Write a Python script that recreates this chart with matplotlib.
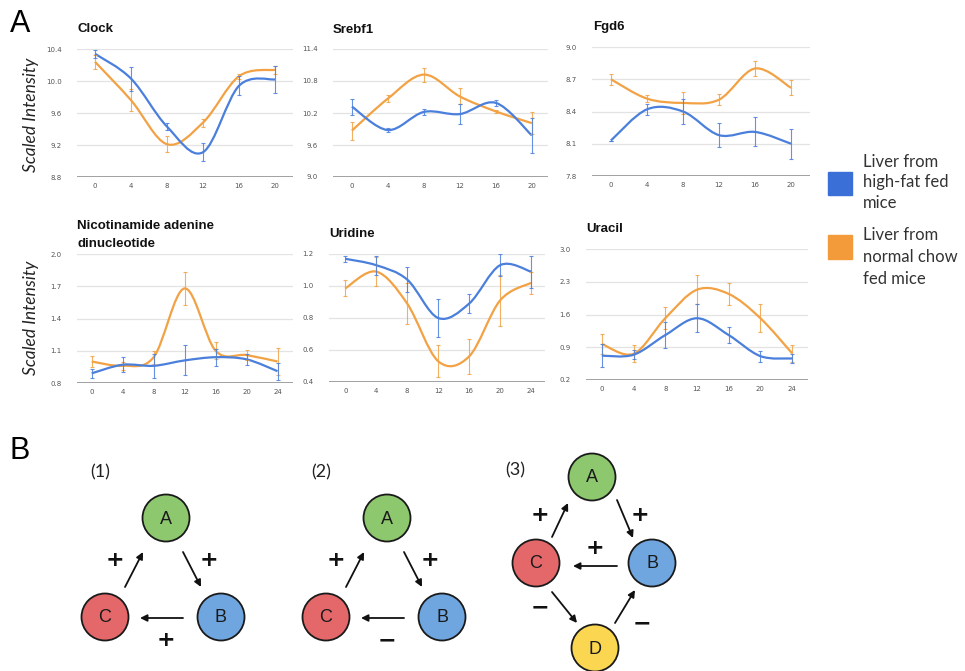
import numpy as np
import matplotlib
matplotlib.use("Agg")
import matplotlib.pyplot as plt
from matplotlib.path import Path
from matplotlib.patches import PathPatch, Circle, Rectangle

# ---- data ----
hours_a = [0, 4, 8, 12, 16, 20]
hours_b = [0, 4, 8, 12, 16, 20, 24]

clock_hf = [10.34, 10.03, 9.43, 9.11, 9.94, 10.02]
clock_hf_err = [0.05, 0.15, 0.04, 0.11, 0.12, 0.17]
clock_nc = [10.24, 9.76, 9.21, 9.48, 10.06, 10.14]
clock_nc_err = [0.09, 0.14, 0.10, 0.05, 0.03, 0.05]

srebf1_hf = [10.32, 9.88, 10.22, 10.18, 10.39, 9.78]
srebf1_hf_err = [0.15, 0.03, 0.06, 0.18, 0.05, 0.33]
srebf1_nc = [9.87, 10.47, 10.92, 10.51, 10.23, 10.01]
srebf1_nc_err = [0.17, 0.07, 0.13, 0.15, 0.03, 0.20]

fgd6_hf = [8.13, 8.42, 8.40, 8.18, 8.21, 8.10]
fgd6_hf_err = [0.0, 0.05, 0.12, 0.11, 0.135, 0.14]
fgd6_nc = [8.70, 8.52, 8.48, 8.51, 8.80, 8.62]
fgd6_nc_err = [0.05, 0.035, 0.10, 0.05, 0.07, 0.07]

nad_hf = [0.89, 0.97, 0.96, 1.01, 1.04, 1.02, 0.91]
nad_hf_err = [0.04, 0.07, 0.11, 0.14, 0.08, 0.05, 0.08]
nad_nc = [1.00, 0.96, 1.04, 1.68, 1.10, 1.06, 1.00]
nad_nc_err = [0.05, 0.04, 0.06, 0.15, 0.08, 0.05, 0.13]

uridine_hf = [1.17, 1.13, 1.04, 0.80, 0.89, 1.13, 1.09]
uridine_hf_err = [0.02, 0.06, 0.08, 0.12, 0.06, 0.07, 0.10]
uridine_nc = [0.985, 1.09, 0.89, 0.53, 0.56, 0.91, 1.02]
uridine_nc_err = [0.05, 0.09, 0.13, 0.10, 0.11, 0.16, 0.07]

uracil_hf = [0.72, 0.74, 1.16, 1.52, 1.16, 0.71, 0.66]
uracil_hf_err = [0.25, 0.10, 0.27, 0.30, 0.17, 0.12, 0.10]
uracil_nc = [0.97, 0.76, 1.52, 2.13, 2.04, 1.52, 0.77]
uracil_nc_err = [0.22, 0.18, 0.24, 0.31, 0.24, 0.30, 0.18]

W, H = 965, 671
BLUE = "#4a7fdc"
ORANGE = "#f2a244"

fig = plt.figure(figsize=(W / 100, H / 100), dpi=100)


def rect(l, t, w, h):
    return [l / W, 1 - (t + h) / H, w / W, h / H]


def smooth(ax, x, y, color):
    # Catmull-Rom curve drawn as cubic Bezier segments
    pts = np.column_stack([x, y]).astype(float)
    n = len(pts)
    verts = [pts[0]]
    codes = [Path.MOVETO]
    for i in range(n - 1):
        p0 = pts[max(i - 1, 0)]
        p1 = pts[i]
        p2 = pts[i + 1]
        p3 = pts[min(i + 2, n - 1)]
        verts += [p1 + (p2 - p0) / 6, p2 - (p3 - p1) / 6, p2]
        codes += [Path.CURVE4] * 3
    ax.add_patch(PathPatch(Path(verts, codes), fill=False, edgecolor=color,
                           lw=1.6, zorder=3))


def panel(r, x, hf, hf_err, nc, nc_err, ylim, yticks, xlim, yfmt):
    ax = fig.add_axes(rect(*r))
    for s in ax.spines.values():
        s.set_visible(False)
    ax.set_xlim(*xlim)
    ax.set_ylim(*ylim)
    ax.set_yticks(yticks)
    ax.set_yticklabels([yfmt.format(v) for v in yticks])
    ax.set_xticks(x)
    ax.tick_params(length=0, labelsize=5, labelcolor="#555555")
    ax.tick_params(axis="y", pad=11)
    ax.tick_params(axis="x", pad=4)
    for v in yticks[1:]:
        ax.axhline(v, color="#e3e3e3", lw=0.9, zorder=0)
    ax.axhline(yticks[0], color="#9a9a9a", lw=1.3, zorder=1)
    smooth(ax, x, nc, ORANGE)
    smooth(ax, x, hf, BLUE)
    ax.errorbar(x, nc, yerr=nc_err, fmt="none", ecolor=ORANGE, elinewidth=0.8,
                capsize=1.5, capthick=0.8, alpha=0.85, zorder=4)
    ax.errorbar(x, hf, yerr=hf_err, fmt="none", ecolor=BLUE, elinewidth=0.8,
                capsize=1.5, capthick=0.8, alpha=0.85, zorder=4)
    return ax


# overlay axes in pixel coordinates for labels, legend and part B
ov = fig.add_axes([0, 0, 1, 1])
ov.set_xlim(0, W)
ov.set_ylim(H, 0)
ov.axis("off")

panel((77, 49, 216, 128), hours_a, clock_hf, clock_hf_err, clock_nc, clock_nc_err,
      (8.8, 10.4), [8.8, 9.2, 9.6, 10.0, 10.4], (-2, 22), "{:.1f}")
panel((333, 49, 215, 128), hours_a, srebf1_hf, srebf1_hf_err, srebf1_nc, srebf1_nc_err,
      (9.0, 11.4), [9.0, 9.6, 10.2, 10.8, 11.4], (-2.1, 21.8), "{:.1f}")
panel((592, 47, 218, 129), hours_a, fgd6_hf, fgd6_hf_err, fgd6_nc, fgd6_nc_err,
      (7.8, 9.0), [7.8, 8.1, 8.4, 8.7, 9.0], (-2.1, 22.1), "{:.1f}")
panel((77, 254, 216, 129), hours_b, nad_hf, nad_hf_err, nad_nc, nad_nc_err,
      (0.8, 2.0), [0.8, 1.1, 1.4, 1.7, 2.0], (-1.9, 26), "{:.1f}")
panel((329, 254, 216, 128), hours_b, uridine_hf, uridine_hf_err, uridine_nc, uridine_nc_err,
      (0.4, 1.2), [0.4, 0.6, 0.8, 1.0, 1.2], (-2.1, 25.8), "{:.1f}")
panel((586, 249, 222, 131), hours_b, uracil_hf, uracil_hf_err, uracil_nc, uracil_nc_err,
      (0.2, 3.0), [0.2, 0.9, 1.6, 2.3, 3.0], (-2, 26), "{:.1f}")

# panel titles
tkw = dict(fontsize=9.5, fontweight="bold", family="Liberation Sans", va="center",
           ha="left", color="#111111")
ov.text(77, 29, "Clock", **tkw)
ov.text(333, 30, "Srebf1", **tkw)
ov.text(593, 27, "Fgd6", **tkw)
ov.text(77, 226, "Nicotinamide adenine", **tkw)
ov.text(77, 244, "dinucleotide", **tkw)
ov.text(329, 234, "Uridine", **tkw)
ov.text(586, 229, "Uracil", **tkw)

ykw = dict(fontsize=12.5, style="italic", family="Lato", rotation=90,
           ha="center", va="center", color="#222222")
ov.text(31, 115, "Scaled Intensity", **ykw)
ov.text(31, 318, "Scaled Intensity", **ykw)

ov.text(10, 24, "A", fontsize=22, family="Liberation Sans", va="center", ha="left")
ov.text(10, 451, "B", fontsize=22, family="Liberation Sans", va="center", ha="left")

# legend
ov.add_patch(Rectangle((828, 172), 24, 23, color="#3a6fd8"))
ov.add_patch(Rectangle((828, 235), 24, 24, color="#f39a3a"))
lkw = dict(fontsize=12, family="Lato", va="center", ha="left", color="#333333")
for yy, s in zip([162, 182, 203], ["Liver from", "high-fat fed", "mice"]):
    ov.text(863, yy, s, **lkw)
for yy, s in zip([235, 257, 279], ["Liver from", "normal chow", "fed mice"]):
    ov.text(863, yy, s, **lkw)

# ---- part B network motifs ----
NODE_COL = {"A": "#8ec86e", "B": "#6fa6e0", "C": "#e4686a", "D": "#fbd651"}


def node(x, y, name):
    ov.add_patch(Circle((x, y), 23.5, facecolor=NODE_COL[name], edgecolor="#1a1a1a",
                        lw=1.3, zorder=3))
    ov.text(x, y + 1, name, fontsize=13, family="Liberation Sans", ha="center",
            va="center", color="#1a1a1a", zorder=4)


def arrow(x0, y0, x1, y1):
    ov.annotate("", xy=(x1, y1), xytext=(x0, y0),
                arrowprops=dict(arrowstyle="-|>", color="#111111", lw=1.3,
                                mutation_scale=10, shrinkA=0, shrinkB=0))


def sign(x, y, s):
    ov.text(x, y, s, fontsize=16, fontweight="bold", family="DejaVu Sans",
            ha="center", va="center", color="#111111")


lab = dict(fontsize=13, family="Lato", ha="center", va="center", color="#222222")
for dx, bottom in [(0, "+"), (221, "\u2212")]:
    ov.text(100 + dx, 472, "(%d)" % (1 if dx == 0 else 2), **lab)
    node(166 + dx, 518, "A")
    node(105 + dx, 617, "C")
    node(221 + dx, 617, "B")
    arrow(125 + dx, 587, 143 + dx, 552)
    arrow(183 + dx, 552, 201 + dx, 587)
    arrow(183 + dx, 618, 140 + dx, 618)
    sign(115 + dx, 560, "+")
    sign(209 + dx, 560, "+")
    sign(166 + dx, 640, bottom)

ov.text(515, 470, "(3)", **lab)
node(592, 477, "A")
node(536, 563, "C")
node(652, 563, "B")
node(595, 648, "D")
arrow(552, 537, 568, 503)
arrow(617, 500, 633, 538)
arrow(617, 566, 573, 566)
arrow(552, 592, 577, 623)
arrow(615, 623, 635, 590)
sign(540, 515, "+")
sign(640, 515, "+")
sign(595, 548, "+")
sign(540, 607, "\u2212")
sign(642, 623, "\u2212")

fig.savefig("out.png", dpi=100)
